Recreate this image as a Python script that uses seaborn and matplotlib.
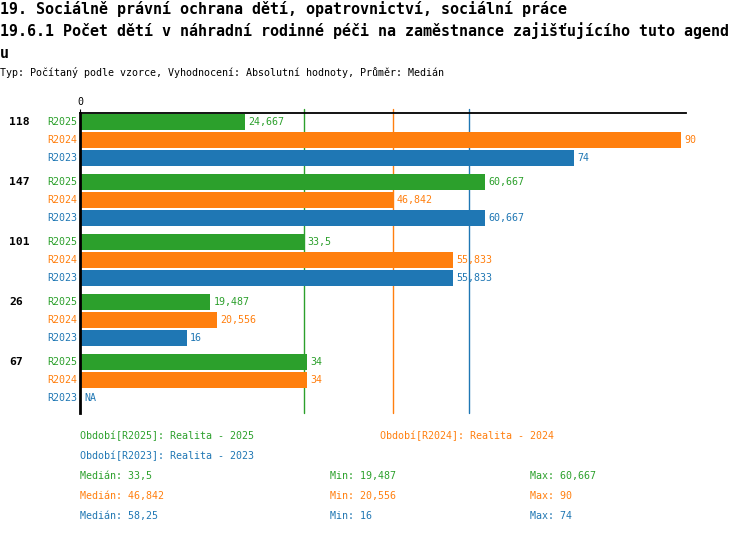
import numpy as np
import pandas as pd
import seaborn as sns
import matplotlib.pyplot as plt

sns.set_style("white")
plt.rcParams['font.family'] = ['DejaVu Sans Mono', 'DejaVu Sans']
plt.rcParams['text.color'] = 'black'

categories = ['118', '147', '101', '26', '67']
periods = ['R2025', 'R2024', 'R2023']
r2025 = [24.667, 60.667, 33.5, 19.487, 34]
r2024 = [90, 46.842, 55.833, 20.556, 34]
r2023 = [74, 60.667, 55.833, 16, np.nan]
colors = {'R2025': '#2ca02c', 'R2024': '#ff7f0e', 'R2023': '#1f77b4'}
legend_names = {'R2025': 'Období[R2025]: Realita - 2025',
                'R2024': 'Období[R2024]: Realita - 2024',
                'R2023': 'Období[R2023]: Realita - 2023'}

rows = []
for p, vals in zip(periods, [r2025, r2024, r2023]):
    for c, v in zip(categories, vals):
        rows.append({'kat': c, 'obdobi': p, 'hodnota': v})
df = pd.DataFrame(rows)


def fmt(v):
    s = f"{v:.3f}".rstrip('0').rstrip('.')
    return s.replace('.', ',')


fig = plt.figure(figsize=(7.5, 5.34), dpi=100)
ax = fig.add_axes([80 / 750, 1 - 413 / 534, 606 / 750, 300 / 534])

group_w = 0.9
sns.barplot(data=df, y='kat', x='hodnota', hue='obdobi', order=categories,
            hue_order=periods, palette=colors, orient='h', width=group_w, gap=0.1,
            legend=False, ax=ax, zorder=2, saturation=1, linewidth=0)

ax.set_xlim(0, 90.7)
ax.set_ylim(4.55, -0.45)

# median lines
medians = {}
for p, vals in zip(periods, [r2025, r2024, r2023]):
    medians[p] = np.nanmedian(vals)
    ax.axvline(medians[p], ymin=0, ymax=1.013, color=colors[p], lw=1,
               zorder=1, clip_on=False)

# value labels and period labels
slot = group_w / len(periods)
for k, (p, vals) in enumerate(zip(periods, [r2025, r2024, r2023])):
    for i, v in enumerate(vals):
        yc = i + (k - 1) * slot
        if np.isnan(v):
            ax.text(0.6, yc, 'NA', color=colors[p], va='center', ha='left', fontsize=7.2)
        else:
            ax.text(v + 0.5, yc, fmt(v), color=colors[p], va='center', ha='left', fontsize=7.2)
        ax.text(-0.005, yc, p, color=colors[p], va='center', ha='right', fontsize=7.2,
                transform=ax.get_yaxis_transform())

for i, c in enumerate(categories):
    ax.text(-0.117, i - slot, c, va='center', ha='left', fontsize=8.2, fontweight='bold',
            color='black', transform=ax.get_yaxis_transform())

ax.set_yticks([])
ax.set_ylabel('')
ax.set_xlabel('')
ax.xaxis.tick_top()
ax.set_xticks([0])
ax.set_xticklabels(['0'])
ax.tick_params(axis='x', length=3, pad=1, labelsize=7.2, colors='black')
for s in ['right', 'bottom']:
    ax.spines[s].set_visible(False)
ax.spines['left'].set_linewidth(2)
ax.spines['left'].set_color('black')
ax.spines['top'].set_linewidth(1.3)
ax.spines['top'].set_color('black')

# titles
fig.text(0.0, 1 - 9 / 534, '19. Sociálně právní ochrana dětí, opatrovnictví, sociální práce',
         fontsize=10.8, fontweight='semibold', va='center', ha='left')
fig.text(0.0, 1 - 31 / 534, '19.6.1 Počet dětí v náhradní rodinné péči na zaměstnance zajišťujícího tuto agend',
         fontsize=10.8, fontweight='semibold', va='center', ha='left')
fig.text(0.0, 1 - 53 / 534, 'u', fontsize=10.8, fontweight='semibold', va='center', ha='left')
fig.text(0.0, 1 - 73 / 534, 'Typ: Počítaný podle vzorce, Vyhodnocení: Absolutní hodnoty, Průměr: Medián',
         fontsize=7.2, va='center', ha='left')

# legend and stats
fig.text(80 / 750, 1 - 436 / 534, legend_names['R2025'], color=colors['R2025'], fontsize=7.2, va='center')
fig.text(380 / 750, 1 - 436 / 534, legend_names['R2024'], color=colors['R2024'], fontsize=7.2, va='center')
fig.text(80 / 750, 1 - 456 / 534, legend_names['R2023'], color=colors['R2023'], fontsize=7.2, va='center')

for k, (p, vals) in enumerate(zip(periods, [r2025, r2024, r2023])):
    y = 1 - (476 + 20 * k) / 534
    fig.text(80 / 750, y, 'Medián: ' + fmt(medians[p]), color=colors[p], fontsize=7.2, va='center')
    fig.text(330 / 750, y, 'Min: ' + fmt(np.nanmin(vals)), color=colors[p], fontsize=7.2, va='center')
    fig.text(530 / 750, y, 'Max: ' + fmt(np.nanmax(vals)), color=colors[p], fontsize=7.2, va='center')

fig.savefig('out.png', dpi=100)
